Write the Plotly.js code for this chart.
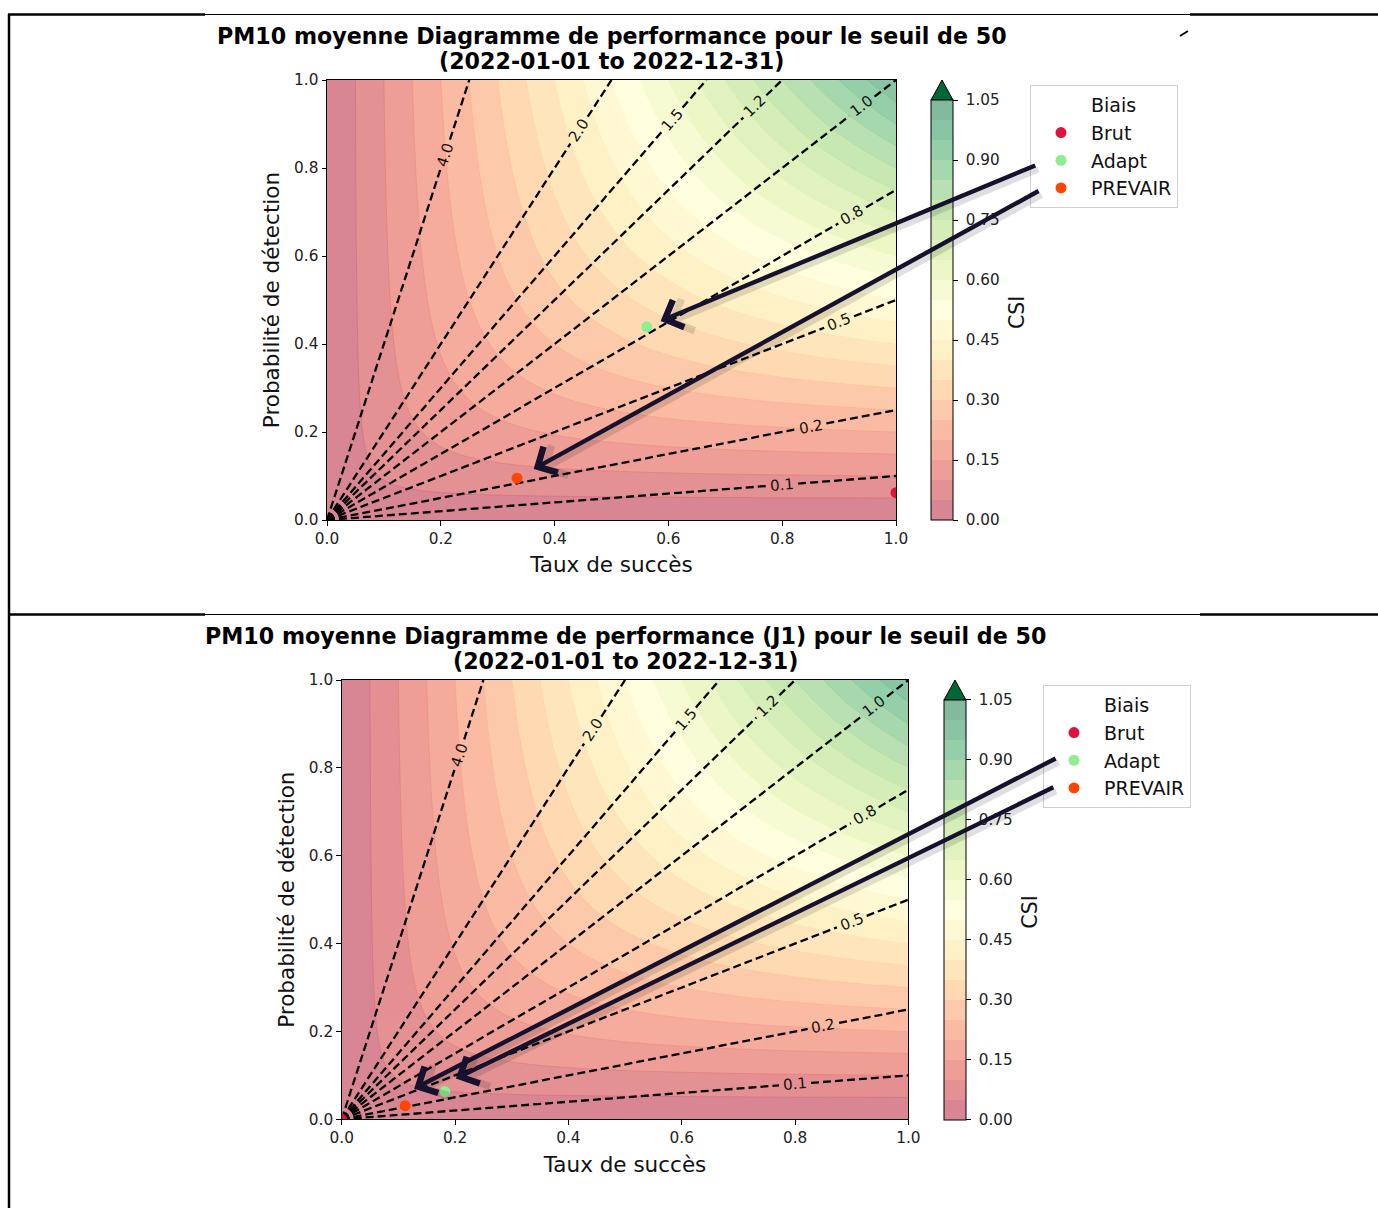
<!DOCTYPE html>
<html><head><meta charset="utf-8">
<script src="https://cdn.plot.ly/plotly-3.0.1.min.js"></script>
<style>html,body{margin:0;padding:0;background:#fff;}#chart{width:1378px;height:1208px;}</style>
</head><body><div id="chart"></div>
<script>
// ---------------- DATA ----------------
const biasLevels = [0.1, 0.25, 0.5, 0.75, 1.0, 1.25, 1.5, 2.0, 4.0];
const biasLabels = ['0.1', '0.2', '0.5', '0.8', '1.0', '1.2', '1.5', '2.0', '4.0'];
const seriesNames = ['Brut', 'Adapt', 'PREVAIR'];
const seriesColors = ['#dc143c', '#90ee90', '#ff4500'];
// Panel 1 (J0)
const successRatio1 = [1.0, 0.562, 0.334];
const pod1 = [0.062, 0.439, 0.095];
// Panel 2 (J1)
const successRatio2 = [0.0, 0.182, 0.112];
const pod2 = [0.0, 0.063, 0.031];
const csiTicks = [0, 0.15, 0.30, 0.45, 0.60, 0.75, 0.90, 1.05];
const axisTicks = [0, 0.2, 0.4, 0.6, 0.8, 1.0];
const titleLines1 = ['PM10 moyenne Diagramme de performance pour le seuil de 50', '(2022-01-01 to 2022-12-31)'];
const titleLines2 = ['PM10 moyenne Diagramme de performance (J1) pour le seuil de 50', '(2022-01-01 to 2022-12-31)'];
const xTitle = 'Taux de succès';
const yTitle = 'Probabilité de détection';
const cbTitle = 'CSI';
const legendTitle = 'Biais';

// ---------------- STYLE / LAYOUT ----------------
const W = 1378, H = 1208;
const PX = v => v / W, PY = v => 1 - v / H;
const panels = [
  {x0: 327, x1: 896, y0: 520, y1: 80, cbx: 931, xa: 'x', ya: 'y', leg: 'legend', legX: 1030, legY: 85,
   sr: successRatio1, pod: pod1, title: titleLines1, titleY: [36, 61],
   arrows: [{i: 1, ax: 390, ay: -162, so: 15, dx: 0, dy: 0}, {i: 2, ax: 523, ay: -288, so: 19, dx: 0, dy: 0}]},
  {x0: 341.7, x1: 908.4, y0: 1119.3, y1: 680, cbx: 944, xa: 'x2', ya: 'y2', leg: 'legend2', legX: 1043, legY: 685,
   sr: successRatio2, pod: pod2, title: titleLines2, titleY: [636, 661],
   arrows: [{i: 2, ax: 643, ay: -331, so: 0, dx: 9, dy: 17}, {i: 1, ax: 599, ay: -292, so: 0, dx: 11, dy: 13}]}
];
const labelT = [0.8, 0.85, 0.9, 0.923, 0.94, 0.94, 0.91, 0.886, 0.83];

// RdYlGn
const rdylgn = [[165,0,38],[215,48,39],[244,109,67],[253,174,97],[254,224,139],[255,255,191],
  [217,239,139],[166,217,106],[102,189,99],[26,152,80],[0,104,55]];
function cmap(t, alpha) {
  t = Math.max(0, Math.min(1, t));
  const p = t * 10, i = Math.min(9, Math.floor(p)), f = p - i;
  const c = [0,1,2].map(k => rdylgn[i][k] + (rdylgn[i+1][k] - rdylgn[i][k]) * f);
  const b = c.map(v => Math.round(alpha * v + (1 - alpha) * 255));
  return 'rgb(' + b.join(',') + ')';
}
const fillScale = rdylgn.map((c, i) => [i / 10, cmap(i / 10, 0.5)]);
const lineLevStart = 0.05, lineLevEnd = 1.0;
const lineScale = [];
for (let k = 0; k <= 19; k++) {
  const v = lineLevStart + k * 0.05;
  lineScale.push([k / 19, cmap(v / 1.05, 0.75)]);
}

// CSI background grid
const N = 201;
const grid = [];
for (let i = 0; i < N; i++) grid.push(i / (N - 1));
const csi = grid.map(p => grid.map(s => (s > 0 && p > 0) ? 1 / (1 / s + 1 / p - 1) : 0));

const traces = [];
const annotations = [];
const shapes = [];
const layout = {
  width: W, height: H, margin: {l: 0, r: 0, t: 0, b: 0},
  paper_bgcolor: '#fff', plot_bgcolor: '#fff',
  font: {family: 'DejaVu Sans, sans-serif', color: '#000'},
  showlegend: true
};
const NB = '\u00a0';

panels.forEach((P, pi) => {
  const pw = P.x1 - P.x0, ph = P.y0 - P.y1;
  const axSuffix = pi === 0 ? '' : '2';
  layout['xaxis' + axSuffix] = {
    domain: [PX(P.x0), PX(P.x1)], anchor: P.ya, range: [0, 1], fixedrange: true,
    tickvals: axisTicks, ticktext: axisTicks.map(v => v.toFixed(1)),
    ticks: 'outside', ticklen: 4.5, tickwidth: 1, tickcolor: '#000',
    showline: true, linecolor: '#000', linewidth: 1, mirror: true,
    showgrid: false, zeroline: false, tickfont: {size: 15.3, color: '#222'},
    title: {text: xTitle, font: {size: 21.5, color: '#111'}, standoff: 10}
  };
  layout['yaxis' + axSuffix] = {
    domain: [PY(P.y0), PY(P.y1)], anchor: P.xa, range: [0, 1], fixedrange: true,
    tickvals: axisTicks, ticktext: axisTicks.map(v => v.toFixed(1)),
    ticks: 'outside', ticklen: 4.5, tickwidth: 1, tickcolor: '#000',
    showline: true, linecolor: '#000', linewidth: 1, mirror: true,
    showgrid: false, zeroline: false, tickfont: {size: 15.3, color: '#222'},
    title: {text: yTitle, font: {size: 21.5, color: '#111'}, standoff: 8}
  };

  // filled CSI
  traces.push({
    type: 'contour', x: grid, y: grid, z: csi, xaxis: P.xa, yaxis: P.ya,
    autocontour: false, contours: {start: 0, end: 1.05, size: 0.05, coloring: 'fill', showlines: false},
    zmin: 0, zmax: 1.05, zauto: false, colorscale: fillScale, line: {width: 0},
    hoverinfo: 'skip', showlegend: false,
    colorbar: {
      x: PX(P.cbx), xanchor: 'left', xpad: 0, ypad: 0, thickness: 22, thicknessmode: 'pixels',
      len: 420, lenmode: 'pixels', y: PY((P.y0 + P.y1 + 20) / 2), yanchor: 'middle',
      outlinewidth: 1, outlinecolor: '#000',
      tickvals: csiTicks, ticktext: csiTicks.map(v => NB + v.toFixed(2)),
      ticks: 'outside', ticklen: 5, tickcolor: '#000', tickfont: {size: 15.2, color: '#222'},
      title: {text: ''}
    }
  });
  // thin seams between bands
  traces.push({
    type: 'contour', x: grid, y: grid, z: csi, xaxis: P.xa, yaxis: P.ya,
    autocontour: false, contours: {start: lineLevStart, end: lineLevEnd, size: 0.05, coloring: 'lines'},
    colorscale: lineScale, line: {width: 0.6}, opacity: 0.55, showscale: false,
    hoverinfo: 'skip', showlegend: false
  });

  // bias lines
  biasLevels.forEach((b, k) => {
    const ex = Math.min(1, 1 / b), ey = Math.min(1, b);
    const L = Math.hypot(ex * pw, ey * ph);
    const t = labelT[k], dt = 16 / L;
    traces.push({
      type: 'scatter', mode: 'lines', xaxis: P.xa, yaxis: P.ya,
      x: [0, (t - dt) * ex, null, (t + dt) * ex, ex],
      y: [0, (t - dt) * ey, null, (t + dt) * ey, ey],
      line: {color: '#000', width: 2.3, dash: '8px,4px'},
      hoverinfo: 'skip', showlegend: false
    });
    const ang = -Math.atan2(ey * ph, ex * pw) * 180 / Math.PI;
    annotations.push({
      xref: P.xa, yref: P.ya, x: t * ex, y: t * ey, text: biasLabels[k], showarrow: false,
      textangle: ang, font: {size: 15, color: '#111'}, xanchor: 'center', yanchor: 'middle'
    });
  });

  // legend header entry
  traces.push({
    type: 'scatter', mode: 'markers', x: [null], y: [null], xaxis: P.xa, yaxis: P.ya,
    name: legendTitle, marker: {color: 'rgba(0,0,0,0)', size: 10}, legend: P.leg,
    legendgroup: 'g0' + pi, hoverinfo: 'skip'
  });
  seriesNames.forEach((nm, k) => {
    traces.push({
      type: 'scatter', mode: 'markers', x: [P.sr[k]], y: [P.pod[k]], xaxis: P.xa, yaxis: P.ya,
      name: nm, marker: {color: seriesColors[k], size: 11}, legend: P.leg,
      legendgroup: 'g' + (k + 1) + pi, cliponaxis: true
    });
  });

  layout[P.leg] = {
    x: PX(P.legX), xanchor: 'left', y: PY(P.legY), yanchor: 'top',
    bgcolor: 'rgba(255,255,255,0.85)', bordercolor: '#d0d0d0', borderwidth: 1,
    font: {size: 19, color: '#111'}, traceorder: 'grouped', tracegroupgap: 0, itemwidth: 50
  };

  // titles (two centred bold lines)
  P.title.forEach((line, li) => {
    annotations.push({
      xref: 'paper', yref: 'paper', x: PX((P.x0 + P.x1) / 2), y: PY(P.titleY[li]), xanchor: 'center', yanchor: 'middle',
      text: '<b>' + line + '</b>', showarrow: false, font: {size: 22.2, color: '#000'}
    });
  });
  // colorbar title
  annotations.push({
    xref: 'paper', yref: 'paper', x: PX(P.cbx + 86), y: PY((P.y0 + P.y1 + 20) / 2 + 3), xanchor: 'center', yanchor: 'middle',
    text: cbTitle, showarrow: false, textangle: -90, font: {size: 20.5, color: '#111'}
  });

  // arrows (shadow + arrow)
  P.arrows.forEach(A => {
    annotations.push({
      xref: P.xa, yref: P.ya, x: P.sr[A.i], y: P.pod[A.i], ax: A.ax, ay: A.ay, axref: 'pixel', ayref: 'pixel',
      text: '', showarrow: true, arrowhead: 4, arrowsize: 1.1, arrowwidth: 6, standoff: A.so + 4,
      arrowcolor: 'rgba(0,0,0,0.12)', xshift: A.dx + 3, yshift: A.dy - 4
    });
    annotations.push({
      xref: P.xa, yref: P.ya, x: P.sr[A.i], y: P.pod[A.i], ax: A.ax, ay: A.ay, axref: 'pixel', ayref: 'pixel',
      text: '', showarrow: true, arrowhead: 4, arrowsize: 1.3, arrowwidth: 4.4, standoff: A.so,
      arrowcolor: '#15112e', xshift: A.dx, yshift: A.dy
    });
  });

  // colorbar extension triangle
  const tb = P.y1 + 20, tt = P.y1;
  shapes.push({
    type: 'path', xref: 'paper', yref: 'paper', layer: 'above',
    path: 'M' + PX(P.cbx) + ',' + PY(tb) + ' L' + PX(P.cbx + 22) + ',' + PY(tb) + ' L' + PX(P.cbx + 11) + ',' + PY(tt) + ' Z',
    fillcolor: '#006837', line: {color: '#000', width: 1}
  });
});

// page frame lines
function hline(x0, x1, y, w) {
  shapes.push({type: 'line', xref: 'paper', yref: 'paper', x0: PX(x0), x1: PX(x1), y0: PY(y), y1: PY(y), line: {color: '#000', width: w}});
}
hline(8, 205, 14.5, 2.5); hline(205, 1190, 14.5, 1.2); hline(1190, 1378, 14.5, 2.5);
hline(8, 205, 614.5, 2.5); hline(205, 1200, 614.5, 1.2); hline(1200, 1378, 614.5, 2.5);
shapes.push({type: 'line', xref: 'paper', yref: 'paper', x0: PX(9), x1: PX(9), y0: PY(14), y1: PY(1208), line: {color: '#000', width: 2.5}});
shapes.push({type: 'line', xref: 'paper', yref: 'paper', x0: PX(1180), x1: PX(1188), y0: PY(36), y1: PY(31), line: {color: '#000', width: 2}});

layout.annotations = annotations;
layout.shapes = shapes;
Plotly.newPlot('chart', traces, layout, {staticPlot: true, displayModeBar: false});
</script></body></html>
